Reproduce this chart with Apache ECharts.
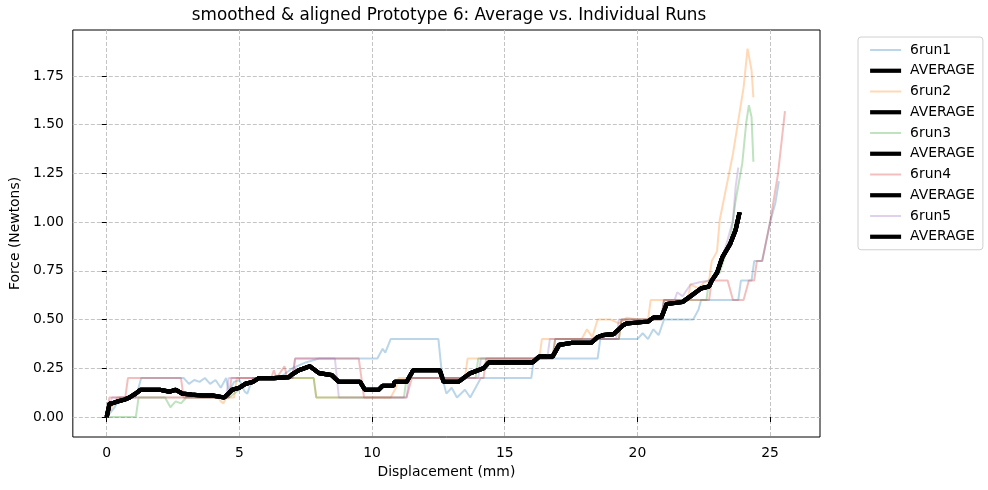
<!DOCTYPE html>
<html>
<head>
<meta charset="utf-8">
<script src="https://cdn.jsdelivr.net/npm/echarts@6/dist/echarts.min.js"></script>
<style>
  html, body { margin: 0; padding: 0; background: #fff; }
  #main { width: 988px; height: 490px; }
</style>
</head>
<body>
<div id="main"></div>
<script>
// tick labels
var xTicks = [0, 5, 10, 15, 20, 25];
var yTicks = [0, 0.25, 0.5, 0.75, 1.0, 1.25, 1.5, 1.75];

// [displacement mm, force N]
var run1 = [[0,0],[0.3,0.05],[0.5,0.1],[1.1,0.1],[1.3,0.2],[2.9,0.2],[3.1,0.17],[3.3,0.19],[3.5,0.18],[3.7,0.2],[3.9,0.17],[4.1,0.19],[4.3,0.15],[4.5,0.2],[4.6,0.13],[4.8,0.18],[5.0,0.19],[5.2,0.13],[5.3,0.12],[5.5,0.2],[6.5,0.2],[7.0,0.25],[7.5,0.28],[8.0,0.3],[10.2,0.3],[10.4,0.35],[10.5,0.33],[10.7,0.4],[12.5,0.4],[12.65,0.2],[12.8,0.12],[13.0,0.15],[13.2,0.1],[13.5,0.14],[13.7,0.1],[13.9,0.15],[14.1,0.2],[16.0,0.2],[16.1,0.3],[18.5,0.3],[18.6,0.4],[20.0,0.4],[20.2,0.43],[20.4,0.4],[20.6,0.45],[20.8,0.42],[21.0,0.5],[22.1,0.5],[22.3,0.55],[22.4,0.6],[23.8,0.6],[23.9,0.7],[24.3,0.7],[24.4,0.8],[24.7,0.8],[25.0,1.0],[25.1,1.05],[25.2,1.1],[25.33,1.21]];
var run2 = [[0,0],[0.2,0.05],[0.4,0.1],[4.2,0.1],[4.3,0.08],[4.4,0.07],[4.5,0.1],[4.8,0.1],[4.9,0.2],[7.8,0.2],[7.9,0.1],[10.7,0.1],[10.9,0.15],[11.0,0.2],[13.5,0.2],[13.6,0.3],[16.3,0.3],[16.4,0.4],[17.9,0.4],[18.1,0.45],[18.3,0.41],[18.5,0.5],[19.0,0.5],[19.3,0.48],[19.6,0.51],[20.0,0.5],[20.4,0.5],[20.5,0.6],[21.9,0.6],[22.0,0.68],[22.3,0.66],[22.5,0.69],[22.7,0.7],[22.8,0.8],[23.0,0.85],[23.1,1.01],[23.6,1.35],[24.0,1.69],[24.15,1.89],[24.3,1.78],[24.37,1.64]];
var run3 = [[0,0],[1.1,0],[1.2,0.1],[2.2,0.1],[2.4,0.05],[2.6,0.08],[2.8,0.07],[3.0,0.1],[4.6,0.1],[5.0,0.14],[5.3,0.17],[5.6,0.2],[7.8,0.2],[7.9,0.1],[11.2,0.1],[11.3,0.2],[13.9,0.2],[14.0,0.3],[16.8,0.3],[16.9,0.4],[19.3,0.4],[19.4,0.5],[20.9,0.5],[21.0,0.6],[22.6,0.6],[22.7,0.7],[23.1,0.74],[23.5,0.91],[23.7,1.11],[23.95,1.3],[24.1,1.51],[24.2,1.6],[24.3,1.54],[24.37,1.31]];
var run4 = [[0,0],[0.1,0.1],[0.7,0.1],[0.8,0.2],[2.8,0.2],[2.9,0.1],[4.6,0.1],[4.7,0.2],[6.2,0.2],[6.3,0.24],[6.4,0.2],[6.7,0.26],[6.8,0.2],[7.0,0.2],[7.1,0.3],[9.5,0.3],[9.7,0.1],[11.3,0.1],[11.5,0.2],[14.2,0.2],[14.3,0.3],[16.8,0.3],[16.9,0.4],[19.3,0.4],[19.4,0.5],[20.9,0.5],[21.0,0.6],[22.7,0.6],[22.8,0.7],[23.4,0.7],[23.6,0.6],[24.0,0.6],[24.2,0.7],[24.4,0.7],[24.5,0.8],[24.7,0.8],[25.0,1.0],[25.3,1.25],[25.56,1.57]];
var run5 = [[0,0],[0.2,0.1],[4.5,0.1],[4.6,0.2],[7.0,0.2],[7.1,0.3],[8.6,0.3],[8.75,0.1],[11.3,0.1],[11.4,0.2],[14.0,0.2],[14.1,0.3],[16.6,0.3],[16.7,0.4],[19.2,0.4],[19.3,0.5],[20.9,0.5],[21.0,0.6],[21.4,0.6],[21.5,0.64],[21.7,0.62],[22.0,0.68],[22.3,0.69],[22.7,0.7],[23.05,0.75],[23.4,0.91],[23.6,1.01],[23.7,1.18],[23.8,1.28]];
var average = [[0,0],[0.11,0.07],[0.2,0.07],[0.41,0.08],[0.68,0.09],[0.86,0.1],[1.09,0.12],[1.28,0.14],[1.46,0.14],[2.0,0.14],[2.36,0.13],[2.6,0.14],[2.85,0.12],[3.2,0.115],[3.6,0.11],[4.0,0.11],[4.43,0.1],[4.73,0.14],[5.0,0.15],[5.22,0.17],[5.5,0.18],[5.74,0.2],[6.3,0.2],[6.87,0.205],[7.0,0.22],[7.24,0.24],[7.45,0.25],[7.66,0.26],[8.0,0.225],[8.48,0.215],[8.75,0.18],[9.23,0.18],[9.55,0.18],[9.73,0.14],[10.25,0.14],[10.4,0.16],[10.8,0.16],[10.85,0.18],[11.3,0.18],[11.55,0.24],[12.0,0.24],[12.55,0.24],[12.7,0.18],[13.25,0.18],[13.7,0.225],[14.2,0.25],[14.4,0.28],[15.0,0.28],[16.05,0.28],[16.3,0.31],[16.8,0.31],[17.05,0.37],[17.5,0.38],[18.25,0.38],[18.5,0.41],[18.7,0.42],[19.1,0.425],[19.45,0.47],[19.6,0.48],[20.4,0.49],[20.6,0.51],[20.9,0.51],[21.1,0.58],[21.7,0.59],[22.0,0.62],[22.4,0.66],[22.7,0.67],[22.8,0.7],[23.0,0.74],[23.2,0.82],[23.5,0.89],[23.7,0.96],[23.85,1.05]];

var runs = [run1, run2, run3, run4, run5];
var runNames = ["6run1", "6run2", "6run3", "6run4", "6run5"];
var runColors = ["#1f77b4", "#ff7f0e", "#2ca02c", "#d62728", "#9467bd"];

var font = "DejaVu Sans";
var series = [];
var legendData = [];
for (var i = 0; i < runs.length; i++) {
  series.push({
    name: runNames[i],
    type: "line",
    data: runs[i],
    symbol: "none",
    animation: false,
    lineStyle: { color: runColors[i], width: 2, opacity: 0.3 },
    itemStyle: { color: runColors[i] }
  });
  // each run is followed by its own AVERAGE entry (trailing spaces keep names unique)
  var avgName = "AVERAGE" + new Array(i + 1).join(" ");
  series.push({
    name: avgName,
    type: "line",
    data: average,
    symbol: "none",
    animation: false,
    lineStyle: { color: "#000", width: 4.2 },
    itemStyle: { color: "#000" }
  });
  legendData.push(
    { name: runNames[i], lineStyle: { width: 2 } },
    { name: avgName, lineStyle: { width: 4.2 } }
  );
}

var chart = echarts.init(document.getElementById("main"));
chart.setOption({
  backgroundColor: "#fff",
  animation: false,
  textStyle: { fontFamily: font },
  title: {
    text: "smoothed & aligned Prototype 6: Average vs. Individual Runs",
    left: 449,
    top: 7,
    padding: 0,
    textAlign: "center",
    textStyle: { fontFamily: font, fontSize: 16.8, fontWeight: "normal", color: "#000" }
  },
  grid: {
    left: 70, right: 168, top: 30, bottom: 53,
    show: true, borderColor: "#000", borderWidth: 1, backgroundColor: "transparent"
  },
  legend: {
    orient: "vertical",
    left: 858,
    top: 37,
    padding: [6, 8, 6, 10],
    itemWidth: 31,
    itemHeight: 14,
    itemGap: 6.75,
    borderColor: "#d0d0d0",
    borderWidth: 1,
    borderRadius: 3,
    data: legendData,
    itemStyle: { opacity: 0 },
    formatter: function (name) { return name.trim(); },
    textStyle: { fontFamily: font, fontSize: 13.9, color: "#000", padding: [0, 0, 0, 4] }
  },
  xAxis: {
    type: "value",
    min: -1.276,
    max: 26.88,
    name: "Displacement (mm)",
    nameLocation: "middle",
    nameGap: 27,
    nameTextStyle: { fontFamily: font, fontSize: 13.9, color: "#000" },
    axisLine: { show: false },
    axisTick: { show: true, inside: false, length: 5, customValues: xTicks, lineStyle: { color: "#000" } },
    axisLabel: { customValues: xTicks, margin: 9, fontFamily: font, fontSize: 13.9, color: "#000" },
    splitLine: { show: true, lineStyle: { color: "#c4c4c4", type: [4, 2], width: 1 } }
  },
  yAxis: {
    type: "value",
    min: -0.1026,
    max: 1.986,
    name: "Force (Newtons)",
    nameLocation: "middle",
    nameGap: 44,
    nameTextStyle: { fontFamily: font, fontSize: 13.9, color: "#000" },
    axisLine: { show: false },
    axisTick: { show: true, inside: false, length: 5, customValues: yTicks, lineStyle: { color: "#000" } },
    axisLabel: {
      customValues: yTicks, margin: 9, fontFamily: font, fontSize: 13.9, color: "#000",
      formatter: function (v) { return v.toFixed(2); }
    },
    splitLine: { show: true, lineStyle: { color: "#c4c4c4", type: [4, 2], width: 1 } }
  },
  series: series
});
</script>
</body>
</html>
